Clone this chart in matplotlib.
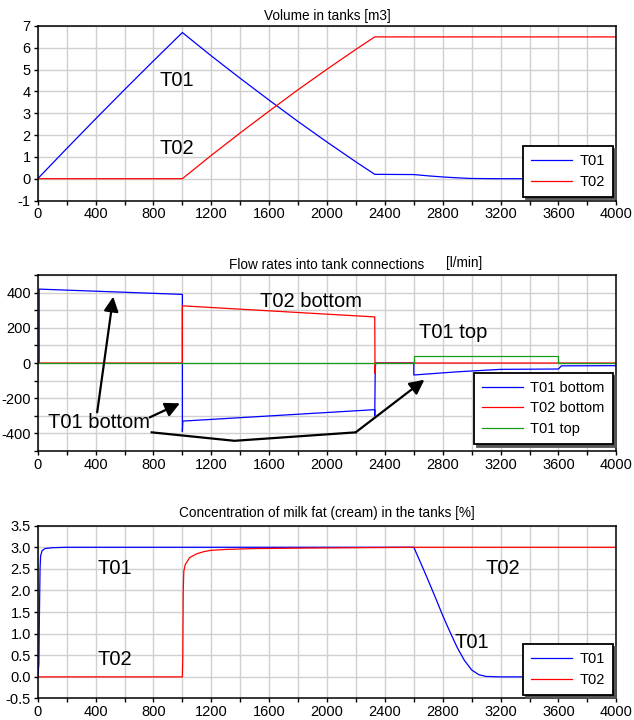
import matplotlib
matplotlib.use("Agg")
import matplotlib.pyplot as plt

plt.rcParams["font.family"] = ["Liberation Sans", "DejaVu Sans"]

# ---- data ----
# volume in tanks [m3]
t_vol1 = [0, 200, 400, 600, 800, 1000, 1200, 1400, 1600, 1800, 2000, 2200, 2330,
          2600, 2700, 2800, 2900, 3000, 3200, 4000]
vol_t01 = [0, 1.38, 2.74, 4.08, 5.40, 6.70, 5.63, 4.60, 3.60, 2.62, 1.68, 0.77, 0.20,
           0.19, 0.13, 0.08, 0.04, 0.01, 0.0, 0.0]
t_vol2 = [0, 1000, 1200, 1400, 1600, 1800, 2000, 2200, 2330, 4000]
vol_t02 = [0, 0, 1.07, 2.10, 3.10, 4.08, 5.02, 5.93, 6.50, 6.50]

# flow rates [l/min]
t_q_b1 = [0, 10, 10, 1000, 1000, 1003, 2330, 2330, 2333, 2336, 2600, 2600, 2900,
          3200, 3600, 3620, 4000]
q_b1 = [0, 0, 420, 390, -390, -330, -265, -300, -60, 0, 0, -68, -50,
        -36, -34, -16, -15]
t_q_b2 = [0, 1000, 1000, 2330, 2332, 2335, 4000]
q_b2 = [0, 0, 325, 262, -60, 0, 0]
t_q_top = [0, 2600, 2600, 3600, 3600, 4000]
q_top = [0, 0, 38, 38, 0, 0]

# concentration of milk fat [%]
t_c1 = [0, 8, 10, 12, 16, 20, 30, 50, 100, 200, 2600, 2650, 2700, 2750, 2800,
        2850, 2900, 2950, 3000, 3050, 3100, 3200, 4000]
c_t01 = [0, 0.3, 0.9, 1.5, 2.5, 2.8, 2.92, 2.97, 2.99, 3.0, 3.0, 2.62, 2.23, 1.83,
         1.42, 1.04, 0.68, 0.38, 0.16, 0.05, 0.01, 0.0, 0.0]
t_c2 = [0, 1000, 1003, 1006, 1010, 1020, 1050, 1100, 1150, 1200, 1300, 1500, 1800,
        2200, 2600, 4000]
c_t02 = [0, 0, 0.5, 2.0, 2.45, 2.6, 2.76, 2.85, 2.9, 2.93, 2.95, 2.97, 2.98,
         2.99, 3.0, 3.0]

BLUE = "#0000ff"
RED = "#ff0000"
GREEN = "#1a9a1a"
GRID = "#d0d0d0"
TICK_FS = 10.5
TXT_FS = 14.5


def style_axes(ax, yticks, ylabels, title, title_pad=6):
    xt = list(range(0, 4001, 200))
    ax.set_xticks(xt)
    ax.set_xticklabels([str(v) if v % 400 == 0 else "" for v in xt])
    ax.set_yticks(yticks)
    ax.set_yticklabels(ylabels)
    ax.set_xlim(0, 4000)
    ax.set_ylim(yticks[0], yticks[-1])
    ax.grid(True, color=GRID, linewidth=1.0)
    ax.set_axisbelow(True)
    ax.tick_params(direction="out", length=3, width=1, labelsize=TICK_FS, pad=2)
    for s in ax.spines.values():
        s.set_linewidth(1.1)
        s.set_color("black")
    ax.set_title(title, fontsize=9.8, pad=title_pad)


def add_legend(ax, anchor_y):
    leg = ax.legend(loc="lower right", bbox_to_anchor=(0.994, anchor_y),
                    borderaxespad=0, fontsize=TICK_FS, fancybox=False,
                    shadow={"color": "#555555", "alpha": 1.0}, framealpha=1,
                    edgecolor="black", handlelength=2.8, handletextpad=0.5,
                    labelspacing=0.45, borderpad=0.55)
    leg.get_frame().set_linewidth(1.3)
    return leg


fig = plt.figure(figsize=(6.34, 7.2), dpi=100)

# ---- top: volume ----
ax1 = fig.add_axes([0.0595, 0.7215, 0.9126, 0.2424])
ax1.plot(t_vol1, vol_t01, color=BLUE, lw=0.9, label="T01")
ax1.plot(t_vol2, vol_t02, color=RED, lw=0.9, label="T02")
yt = list(range(-1, 8))
style_axes(ax1, yt, [str(v) for v in yt], "Volume in tanks [m3]", title_pad=4)
ax1.text(961, 4.5, "T01", fontsize=TXT_FS, ha="center", va="center")
ax1.text(961, 1.38, "T02", fontsize=TXT_FS, ha="center", va="center")
add_legend(ax1, 0.022)

# ---- middle: flow rates ----
ax2 = fig.add_axes([0.0595, 0.3736, 0.9126, 0.2444])
ax2.plot(t_q_b1, q_b1, color=BLUE, lw=0.9, label="T01 bottom")
ax2.plot(t_q_b2, q_b2, color=RED, lw=0.9, label="T02 bottom")
ax2.plot(t_q_top, q_top, color=GREEN, lw=0.9, label="T01 top")
yt = list(range(-500, 501, 100))
style_axes(ax2, yt, [str(v) if v % 200 == 0 else "" for v in yt],
           "Flow rates into tank connections", title_pad=4)
ax2.text(0.737, 1.03, "[l/min]", transform=ax2.transAxes, fontsize=9.8,
         ha="center", va="bottom")
ax2.text(1891, 352, "T02 bottom", fontsize=TXT_FS, ha="center", va="center")
ax2.text(2869, 171, "T01 top", fontsize=TXT_FS, ha="center", va="center")
ax2.text(425, -337, "T01 bottom", fontsize=TXT_FS, ha="center", va="center")

arrow = dict(arrowstyle="-|>", color="black", lw=1.6, mutation_scale=22,
             shrinkA=0, shrinkB=0)
ax2.annotate("", xy=(522, 377), xytext=(411, -280), arrowprops=arrow)
ax2.annotate("", xy=(983, -229), xytext=(774, -309), arrowprops=arrow)
path_x = [788, 1360, 2198]
path_y = [-394, -442, -394]
ax2.plot(path_x, path_y, color="black", lw=1.6)
ax2.annotate("", xy=(2673, -95), xytext=(2198, -394), arrowprops=arrow)
add_legend(ax2, 0.04)

# ---- bottom: concentration ----
ax3 = fig.add_axes([0.0595, 0.0299, 0.9126, 0.2400])
ax3.plot(t_c1, c_t01, color=BLUE, lw=0.9, label="T01")
ax3.plot(t_c2, c_t02, color=RED, lw=0.9, label="T02")
yt = [-0.5 + 0.5 * i for i in range(9)]
style_axes(ax3, yt, ["%.1f" % v for v in yt],
           "Concentration of milk fat (cream) in the tanks [%]", title_pad=6)
ax3.text(536, 2.5, "T01", fontsize=TXT_FS, ha="center", va="center")
ax3.text(536, 0.41, "T02", fontsize=TXT_FS, ha="center", va="center")
ax3.text(3218, 2.5, "T02", fontsize=TXT_FS, ha="center", va="center")
ax3.text(3003, 0.80, "T01", fontsize=TXT_FS, ha="center", va="center")
add_legend(ax3, 0.02)

fig.savefig("out.png", dpi=100)
